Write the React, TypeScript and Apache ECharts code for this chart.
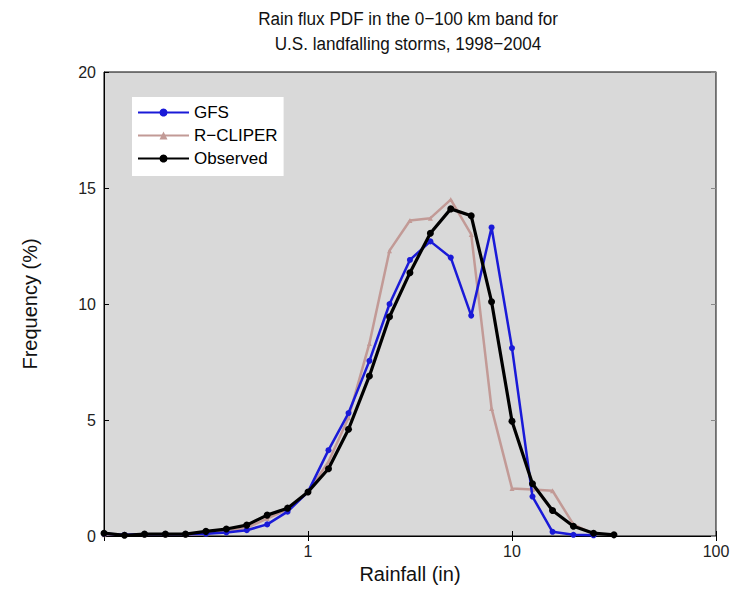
import React, { useEffect, useRef } from 'react';
import * as echarts from 'echarts';

const rainfall = [
  0.1, 0.126, 0.158, 0.2, 0.251, 0.316, 0.398, 0.501, 0.631, 0.794,
  1, 1.26, 1.58, 2.0, 2.51, 3.16, 3.98, 5.01, 6.31, 7.94,
  10, 12.6, 15.8, 20, 25.1, 31.6,
];

const gfs = [
  0.1, 0.05, 0.08, 0.08, 0.08, 0.1, 0.15, 0.25, 0.5, 1.05,
  1.9, 3.7, 5.3, 7.55, 10.0, 11.9, 12.7, 12.0, 9.5, 13.3,
  8.1, 1.7, 0.18, 0.05, 0.03,
];

const rcliper = [
  0.05, 0.05, 0.05, 0.05, 0.05, 0.1, 0.2, 0.35, 0.75, 1.15,
  1.9, 3.2, 5.1, 8.3, 12.3, 13.6, 13.7, 14.5, 13.0, 5.5,
  2.05, 2.0, 1.95, 0.5, 0.08,
];

const observed = [
  0.12, 0.03, 0.08, 0.08, 0.08, 0.2, 0.3, 0.47, 0.9, 1.2,
  1.9, 2.9, 4.6, 6.9, 9.45, 11.35, 13.05, 14.1, 13.8, 10.1,
  4.95, 2.25, 1.1, 0.42, 0.12, 0.05,
];

const xTicks = [0.1, 1, 10, 100];
const yTicks = [0, 5, 10, 15, 20];
const titleLines = ['Rain flux PDF in the 0\u2212100 km band for', 'U.S. landfalling storms, 1998\u22122004'];

const FONT = 'Liberation Sans, Arial, Helvetica, sans-serif';

function pairs(vals: number[]) {
  return vals.map((v, i) => [rainfall[i], v]);
}

export default function App() {
  const ref = useRef<HTMLDivElement>(null);
  useEffect(() => {
    const chart = echarts.init(ref.current!, null, { renderer: 'svg' });
    const tickStyle = { show: true, inside: true, length: 5, lineStyle: { color: '#000', width: 1 } };
    chart.setOption({
      animation: false,
      backgroundColor: '#ffffff',
      graphic: titleLines.map((t, i) => ({
        type: 'text',
        x: 408,
        y: 19 + i * 25,
        scaleX: 0.9,
        style: {
          text: t,
          fontFamily: FONT,
          fontSize: 19,
          fill: '#111',
          textAlign: 'center',
          textVerticalAlign: 'middle',
        },
      })),
      legend: {
        orient: 'vertical',
        left: 132,
        top: 97,
        backgroundColor: '#ffffff',
        padding: [7, 6, 9, 5],
        itemGap: 6,
        itemWidth: 51,
        itemHeight: 10,
        textStyle: { fontFamily: FONT, fontSize: 17, color: '#000' },
        data: ['GFS', 'R\u2212CLIPER', 'Observed'],
      },
      grid: {
        left: 104,
        right: 21,
        top: 72,
        bottom: 51,
        show: true,
        backgroundColor: '#d9d9d9',
        borderColor: '#000',
        borderWidth: 1,
      },
      xAxis: [
        {
          type: 'log',
          logBase: 10,
          min: 0.1,
          max: 100,
          name: 'Rainfall (in)',
          nameLocation: 'middle',
          nameGap: 28,
          nameTextStyle: { fontFamily: FONT, fontSize: 20, color: '#111' },
          axisLine: { show: true, lineStyle: { color: '#000', width: 1 } },
          axisTick: tickStyle,
          axisLabel: {
            fontFamily: FONT,
            fontSize: 16,
            color: '#222',
            margin: 7,
            formatter: (v: number) => (xTicks.includes(Number(v.toPrecision(3))) && v >= 1 ? String(Math.round(v)) : ''),
          },
          splitLine: { show: false },
        },
        {
          type: 'log',
          logBase: 10,
          min: 0.1,
          max: 100,
          position: 'top',
          axisLine: { show: true, lineStyle: { color: '#000', width: 1 } },
          axisTick: tickStyle,
          axisLabel: { show: false },
          splitLine: { show: false },
        },
      ],
      yAxis: [
        {
          type: 'value',
          min: yTicks[0],
          max: yTicks[yTicks.length - 1],
          interval: 5,
          name: 'Frequency (%)',
          nameLocation: 'middle',
          nameGap: 64,
          nameRotate: 90,
          nameTextStyle: { fontFamily: FONT, fontSize: 20, color: '#111' },
          axisLine: { show: true, lineStyle: { color: '#000', width: 1 } },
          axisTick: tickStyle,
          axisLabel: { fontFamily: FONT, fontSize: 16, color: '#222', margin: 8 },
          splitLine: { show: false },
        },
        {
          type: 'value',
          min: yTicks[0],
          max: yTicks[yTicks.length - 1],
          interval: 5,
          position: 'right',
          axisLine: { show: true, lineStyle: { color: '#888', width: 1 } },
          axisTick: { ...tickStyle, lineStyle: { color: '#888', width: 1 } },
          axisLabel: { show: false },
          splitLine: { show: false },
        },
      ],
      series: [
        {
          name: 'R\u2212CLIPER',
          type: 'line',
          data: pairs(rcliper),
          symbol: 'triangle',
          symbolSize: 5,
          itemStyle: { color: '#c29a96' },
          lineStyle: { color: '#c29a96', width: 2.5 },
          z: 2,
        },
        {
          name: 'GFS',
          type: 'line',
          data: pairs(gfs),
          symbol: 'circle',
          symbolSize: 6,
          itemStyle: { color: '#1a1ad8' },
          lineStyle: { color: '#1a1ad8', width: 2.5 },
          z: 3,
        },
        {
          name: 'Observed',
          type: 'line',
          data: pairs(observed),
          symbol: 'circle',
          symbolSize: 7,
          itemStyle: { color: '#000' },
          lineStyle: { color: '#000', width: 3.2 },
          z: 4,
        },
      ],
    });
    return () => chart.dispose();
  }, []);
  return <div ref={ref} style={{ position: 'fixed', left: 0, top: 0, width: 737, height: 589 }} />;
}
